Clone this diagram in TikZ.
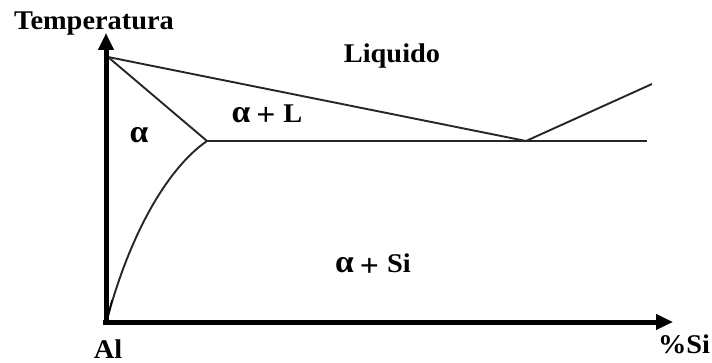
\documentclass[tikz,border=0pt]{standalone}
\usepackage{fontspec}
\setmainfont{Liberation Serif}[FakeStretch=1.05]
\usetikzlibrary{arrows.meta}
\newcommand{\alf}{{\fontsize{32}{32}\selectfont α}}
\newcommand{\pls}{\raisebox{-3pt}{\fontsize{32}{32}\selectfont +}}
\begin{document}
\begin{tikzpicture}[x=1pt,y=-1pt,
  axis/.style={line width=5pt,-{Triangle[length=17pt,width=15pt]}},
  thin/.style={line width=1.9pt,draw={black!85}},
  lbl/.style={anchor=base,inner sep=0pt,font=\fontsize{27}{30}\selectfont\bfseries}]
\useasboundingbox (0,0) rectangle (712,363);
\coordinate (O) at (106,322);
\coordinate (ytop) at (106,33);
\coordinate (xend) at (673,322);
\coordinate (Tm) at (108,57);
\coordinate (E) at (526,141);
\coordinate (S) at (207,141);
\coordinate (Eend) at (647,141);
\coordinate (R) at (652,84);
\coordinate (B) at (107,320);
\draw[thin] (Tm) -- (E);
\draw[thin] (Tm) -- (S);
\draw[thin] (S) -- (Eend);
\draw[thin] (E) -- (R);
\draw[thin] (S) .. controls (165,170) and (128,240) .. (B);
\draw[line width=1.5pt] (112,300) -- (B);
\draw[axis] (106,324) -- (ytop);
\draw[axis] (103,322) -- (xend);
\node[lbl] (temp) at (94,30) {Temperatura};
\node[lbl] (liq) at (392,63) {Liquido};
\node[lbl] (a) at (139,143) {\alf};
\node[lbl] (aL) at (267,123) {\alf\hspace{6pt}\pls\hspace{8pt}L};
\node[lbl] (aSi) at (373,273) {\alf\hspace{6pt}\pls\hspace{8pt}Si};
\node[lbl] (Al) at (108,358) {Al};
\node[lbl] (Si) at (684,353) {\%Si};
\end{tikzpicture}
\end{document}
